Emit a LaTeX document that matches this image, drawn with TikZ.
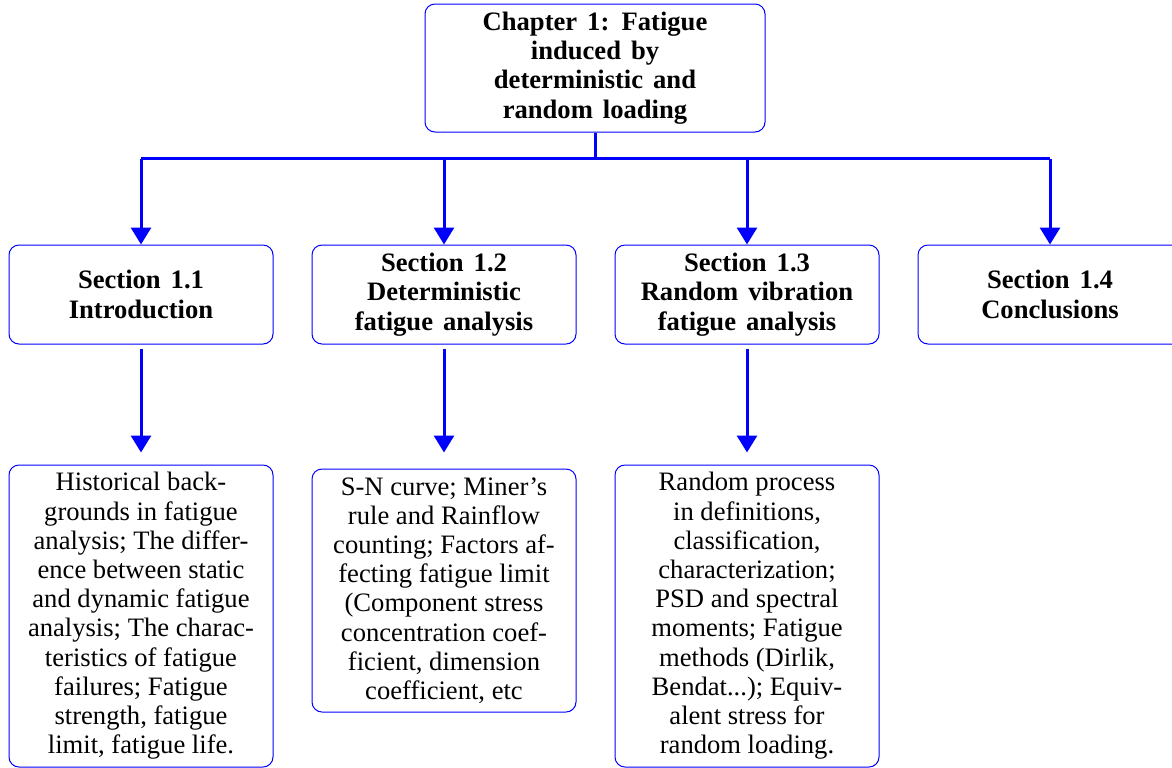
\documentclass[tikz,border=0pt]{standalone}
\usepackage{fontspec}
\setmainfont{Liberation Serif}
\usepackage{tikz}
\usetikzlibrary{shapes,arrows,arrows.meta,positioning,calc}
\newcommand{\widespace}{\spaceskip=5pt\relax}

\begin{document}
\begin{tikzpicture}[
    x=1pt, y=1pt,
    node distance=19pt,
    every node/.style={font=\fontsize{13.3}{14.6}\selectfont, align=center},
    chap/.style={rectangle, rounded corners=5pt, draw=blue, line width=0.5pt, minimum width=170pt, minimum height=64pt, font=\fontsize{13.3}{14.6}\selectfont\bfseries\widespace},
    sec/.style={rectangle, rounded corners=5pt, draw=blue, line width=0.5pt, minimum width=132pt, minimum height=49.5pt, font=\fontsize{13.3}{14.6}\selectfont\bfseries\widespace},
    topic/.style={rectangle, rounded corners=5pt, draw=blue, line width=0.5pt, minimum width=132pt, text centered},
    link/.style={draw=blue, line width=1.5pt, -{Triangle[width=10pt,length=8.5pt]}}
]
    \useasboundingbox (0,0) rectangle (586,-383.5);

    % Chapter
    \node[chap] (chap) at (297.5,-34) {Chapter 1: Fatigue\\induced by\\deterministic and\\random loading};
    \coordinate (bus) at ($(chap.south)+(0,-13)$);

    % Sections
    \node[sec] (sec1) at (70.5,-147.25) {Section 1.1\\Introduction};
    \node[sec, right=of sec1] (sec2) {Section 1.2\\Deterministic\\fatigue analysis};
    \node[sec, right=of sec2] (sec3) {Section 1.3\\Random vibration\\fatigue analysis};
    \node[sec, right=of sec3] (sec4) {Section 1.4\\Conclusions};

    % Contents
    \node[topic, minimum height=151pt, below=60pt of sec1] (top1) {Historical back-\\grounds in fatigue\\analysis; The differ-\\ence between static\\and dynamic fatigue\\analysis; The charac-\\teristics of fatigue\\failures; Fatigue\\strength, fatigue\\limit, fatigue life.};
    \node[topic, minimum height=121.5pt, below=62pt of sec2] (top2) {S-N curve; Miner's\\rule and Rainflow\\counting; Factors af-\\fecting fatigue limit\\(Component stress\\concentration coef-\\ficient, dimension\\coefficient, etc};
    \node[topic, minimum height=151pt, below=60pt of sec3] (top3) {Random process\\in definitions,\\classification,\\characterization;\\PSD and spectral\\moments; Fatigue\\methods (Dirlik,\\Bendat...); Equiv-\\alent stress for\\random loading.};

    % Arrows
    \draw[blue, line width=1.5pt] (chap.south) -- (bus);
    \draw[blue, line width=1.5pt] (sec1 |- bus) -- (sec4 |- bus);
    \draw[link] (sec1 |- bus) -- (sec1.north);
    \draw[link] (sec2 |- bus) -- (sec2.north);
    \draw[link] (sec3 |- bus) -- (sec3.north);
    \draw[link] (sec4 |- bus) -- (sec4.north);
    \draw[link, shorten <=2pt, shorten >=6pt] (sec1) -- (top1);
    \draw[link, shorten <=2pt, shorten >=8pt] (sec2) -- (top2);
    \draw[link, shorten <=2pt, shorten >=6pt] (sec3) -- (top3);
\end{tikzpicture}
\end{document}
